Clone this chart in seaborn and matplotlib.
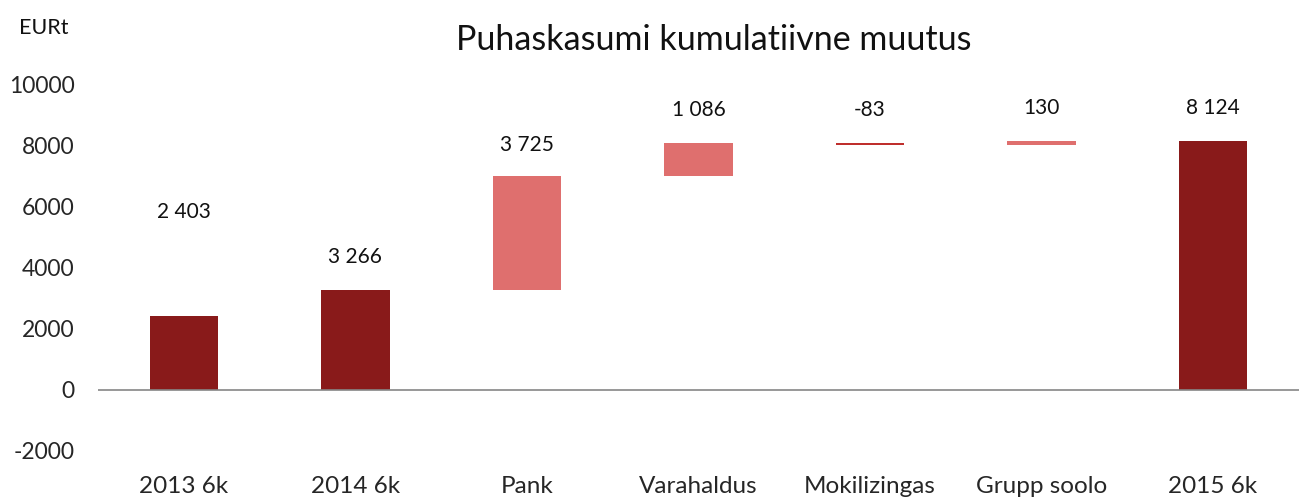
import numpy as np
import pandas as pd
import matplotlib
matplotlib.use("Agg")
import matplotlib.pyplot as plt
import seaborn as sns

categories = ["2013 6k", "2014 6k", "Pank", "Varahaldus", "Mokilizingas", "Grupp soolo", "2015 6k"]
changes = [2403, 3266, 3725, 1086, -83, 130, 8124]
is_total = [True, True, False, False, False, False, True]
labels = ["2 403", "3 266", "3 725", "1 086", "-83", "130", "8 124"]
label_y = [5817, 4346, 8007, 9150, 9150, 9216, 9216]

dark = "#891a1a"
light = "#df6f6e"
neg = "#bf2f2d"

# waterfall geometry from the values
tops, bottoms, colors = [], [], []
running = 0
for c, tot in zip(changes, is_total):
    if tot:
        lo, hi = 0, c
        running = c
        colors.append(dark)
    else:
        start = running
        running = running + c
        lo, hi = min(start, running), max(start, running)
        colors.append(light if c >= 0 else neg)
    bottoms.append(lo)
    tops.append(hi)

df = pd.DataFrame({"cat": categories, "top": tops, "bottom": bottoms})

sns.set_style("white")
plt.rcParams["font.family"] = ["Lato", "DejaVu Sans"]
plt.rcParams["axes.unicode_minus"] = False

fig = plt.figure(figsize=(13.04, 5.03), dpi=100)
ax = fig.add_axes([0.0752, 0.1034, 0.9208, 0.7296])

sns.barplot(data=df, x="cat", y="top", hue="cat", palette=colors, legend=False,
            width=0.4, ax=ax, saturation=1, linewidth=0, zorder=2)
sns.barplot(data=df, x="cat", y="bottom", color="white", width=0.42,
            ax=ax, saturation=1, linewidth=0, zorder=3)

ax.axhline(0, color="#868686", lw=1.2, zorder=5)
ax.set_ylim(-2000, 10000)
ax.set_xlim(-0.5, 6.5)
ax.set_yticks(np.arange(-2000, 10001, 2000))
ax.tick_params(axis="y", labelsize=16.5, length=0, pad=17)
ax.tick_params(axis="x", labelsize=17.5, length=0, pad=18)
ax.set_xlabel("")
ax.set_ylabel("")
for s in ax.spines.values():
    s.set_visible(False)

for i, (t, y) in enumerate(zip(labels, label_y)):
    ax.text(i, y, t, ha="center", va="center", fontsize=15, color="#111111")

fig.text(0.5475, 0.92, "Puhaskasumi kumulatiivne muutus", ha="center", va="center",
         fontsize=24.5, color="#111111")
fig.text(0.0145, 0.945, "EURt", ha="left", va="center", fontsize=15.5, color="#111111")

fig.savefig("out.png", dpi=100)
